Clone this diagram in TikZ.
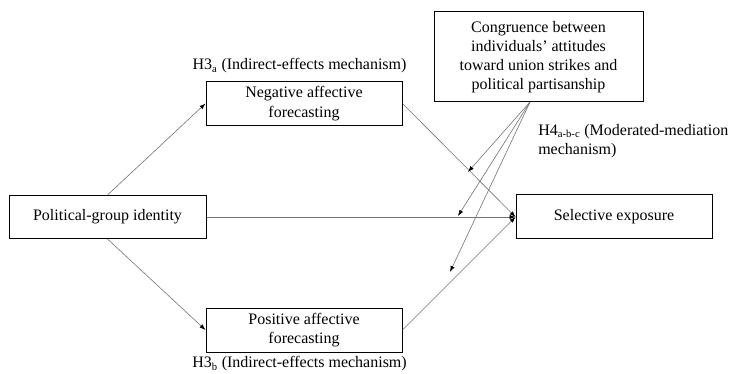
\documentclass[tikz,border=0pt]{standalone}
\usepackage{fontspec}
\setmainfont{Liberation Serif}
\usepackage{tikz}
\usetikzlibrary{positioning,arrows.meta}
\colorlet{lineGray}{black!55}
\tikzset{
  varbox/.style={draw=black, line width=0.75pt, align=center, inner sep=2pt},
  linkarrow/.style={draw=lineGray, line width=0.45pt, -{Latex[length=4.5pt,width=3.2pt,black]}}
}

\begin{document}
\begin{tikzpicture}[x=0.75pt, y=-0.75pt, every node/.style={font=\fontsize{12}{14.4}\selectfont}]
        \useasboundingbox (0,0) rectangle (732,374);

        % variables
        \node[varbox, minimum width=147.75pt, minimum height=32.25pt] (pol) at (107.5,217) {Political-group identity};
        \node[varbox, minimum width=147pt, minimum height=33pt] (neg) at (304,103.5) {Negative affective\\forecasting};
        \node[varbox, minimum width=147pt, minimum height=33pt] (pos) at (304,330) {Positive affective\\forecasting};
        \node[varbox, minimum width=147pt, minimum height=33pt] (sel) at (614,217) {Selective exposure};
        \node[varbox, minimum width=156.75pt, minimum height=67.5pt] (cong) at (538.5,57)
            {Congruence between\\individuals' attitudes\\toward union strikes and\\political partisanship};

        % hypothesis labels
        \node (h3a) at (299.5,66) {H3\textsubscript{a} (Indirect-effects mechanism)};
        \node (h3b) at (299.5,364) {H3\textsubscript{b} (Indirect-effects mechanism)};
        \node[anchor=north west, align=left, inner sep=0pt] (h4) at (538,124)
            {H4\textsubscript{a-b-c} (Moderated-mediation\\mechanism)};

        % paths
        \draw[linkarrow] (pol.north) -- (neg.west);
        \draw[linkarrow] (pol.south) -- (pos.west);
        \foreach \v in {pol,neg,pos}{
            \draw[linkarrow] (\v.east) -- (sel.west);
        }

        % moderation
        \coordinate (modsrc) at (530,102);
        \coordinate (m1) at (468,172);
        \coordinate (m2) at (458,216);
        \coordinate (m3) at (450,272);
        \foreach \t in {m1,m2,m3}{
            \draw[linkarrow] (modsrc) -- (\t);
        }

    \end{tikzpicture}
\end{document}
